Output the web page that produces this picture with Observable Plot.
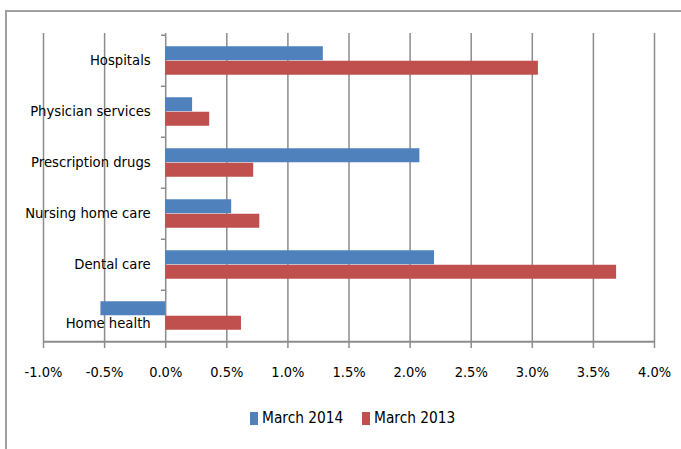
<!DOCTYPE html>
<html>
<head>
<meta charset="utf-8">
<script src="https://cdn.jsdelivr.net/npm/d3@7"></script>
<script src="https://cdn.jsdelivr.net/npm/@observablehq/plot@0.6"></script>
<style>
  html, body { margin: 0; padding: 0; background: #fff; }
  body { width: 681px; height: 449px; position: relative; overflow: hidden;
         font-family: "Liberation Sans Narrow", "DejaVu Sans Condensed", "Roboto Condensed", sans-serif; }
  #chart { position: absolute; left: 0; top: 0; }
  #frame-left { position: absolute; left: 5px; top: 10px; width: 2px; height: 450px; background: #a0a0a0; }
  #frame-top { position: absolute; left: 5px; top: 10px; width: 690px; height: 2px; background: #a0a0a0; }
  #legend { position: absolute; top: 408px; left: 0; width: 681px; height: 20px; }
  .item { position: absolute; top: 0; display: flex; align-items: center; font-size: 15.3px; color: #000; line-height: 20px; }
  .swatch { width: 8px; height: 13px; margin-right: 4px; display: inline-block; }
</style>
</head>
<body>
<div id="frame-left"></div>
<div id="frame-top"></div>
<div id="chart"></div>
<div id="legend"></div>
<script>
const categories = ["Hospitals", "Physician services", "Prescription drugs", "Nursing home care", "Dental care", "Home health"];
const march2014 = [1.29, 0.22, 2.08, 0.54, 2.20, -0.53];
const march2013 = [3.05, 0.36, 0.72, 0.77, 3.69, 0.62];
const seriesNames = ["March 2014", "March 2013"];
const seriesColors = ["#4F81BD", "#C0504D"];
const xTicks = [-1, -0.5, 0, 0.5, 1, 1.5, 2, 2.5, 3, 3.5, 4];

const rows2014 = categories.map((c, i) => ({category: c, value: march2014[i]}));
const rows2013 = categories.map((c, i) => ({category: c, value: march2013[i]}));

const H = 395, mT = 33, mB = 53;
const band = (H - mT - mB) / categories.length;
const half = band / 2;
const barH = 14.5;
const gap = (band - 2 * barH) / 2;
const gridColor = "#8c8c8c";
const font = '"Liberation Sans Narrow", "DejaVu Sans Condensed", sans-serif';

const chart = Plot.plot({
  width: 681,
  height: H,
  marginLeft: 43,
  marginRight: 27,
  marginTop: mT,
  marginBottom: mB,
  style: {fontFamily: font, fontSize: "14.5px", color: "#000", background: "transparent"},
  x: {domain: [-1, 4], ticks: xTicks, label: null},
  y: {domain: categories, padding: 0, axis: null},
  marks: [
    Plot.ruleX(xTicks, {stroke: gridColor, strokeWidth: 1.5}),
    Plot.ruleY(categories, {y: d => d, x1: -0.035, x2: 0, dy: -half, stroke: gridColor, strokeWidth: 1.5}),
    Plot.barX(rows2014, {x: "value", y: "category", fill: seriesColors[0], insetTop: gap, insetBottom: gap + barH}),
    Plot.barX(rows2013, {x: "value", y: "category", fill: seriesColors[1], insetTop: gap + barH, insetBottom: gap}),
    Plot.ruleY([categories[categories.length - 1]], {y: d => d, x1: -1, x2: 4, dy: half, stroke: gridColor, strokeWidth: 2}),
    Plot.axisX({ticks: xTicks, tickFormat: d => d.toFixed(1) + "%", tickSize: 6, tickPadding: 18,
                stroke: gridColor, strokeWidth: 1.5, fill: "#000", label: null, fontSize: 14.5}),
    Plot.text(categories, {filter: d => d !== "Home health", y: d => d, x: d => 0, dx: -15, dy: -1,
                           textAnchor: "end", fontSize: 14.7, fill: "#000"}),
    Plot.text(categories, {filter: d => d === "Home health", y: d => d, x: d => 0, dx: -15, dy: 7,
                           textAnchor: "end", fontSize: 14.7, fill: "#000"})
  ]
});
document.getElementById("chart").appendChild(chart);

const legend = document.getElementById("legend");
const lefts = [250, 362];
seriesNames.forEach((name, i) => {
  const item = document.createElement("div");
  item.className = "item";
  item.style.left = lefts[i] + "px";
  const sw = document.createElement("span");
  sw.className = "swatch";
  sw.style.background = seriesColors[i];
  item.appendChild(sw);
  item.appendChild(document.createTextNode(name));
  legend.appendChild(item);
});
</script>
</body>
</html>
